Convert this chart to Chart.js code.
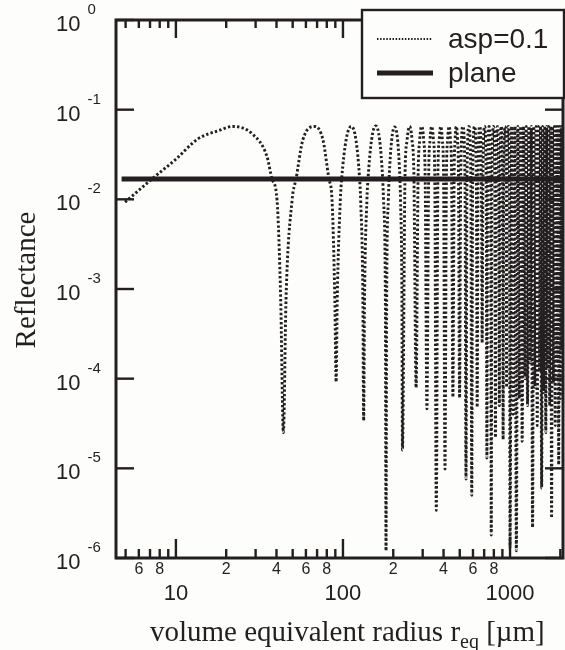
<!DOCTYPE html>
<html>
<head>
<meta charset="utf-8">
<script src="https://cdn.jsdelivr.net/npm/chart.js@4.4.0/dist/chart.umd.min.js"></script>
<style>
  html, body { margin: 0; padding: 0; background: #fdfdfb; }
  canvas { display: block; }
</style>
</head>
<body>
<canvas id="reflChart" width="565" height="650"></canvas>
<script>
// (log-log)
var aspRadius = [
    4.96, 7.2, 10, 13.5, 18.3, 21.9, 28.9, 35.1, 37.6, 40.3, 42.4, 44,
    45.6, 49.6, 52.4, 57.5, 67.9, 75.9, 82.4, 86, 89.4, 91,
    92.4, 96.4, 98.2, 104.4, 112, 119.6, 125.8, 127.6, 131.6, 133,
    134.6, 139.1, 141.2, 148.3, 157, 165.7, 172.8, 174.9, 179.4, 181,
    182.6, 186.9, 188.8, 195.7, 204, 212.3, 219.2, 221.1, 225.4, 227,
    235, 242, 250.5, 259, 266, 274,
    281.5, 288, 296, 304, 310.5, 318,
    325.5, 332, 340, 348, 354.5, 362,
    369.8, 376.7, 385, 393.3, 400.2, 408,
    416, 423, 431.5, 440, 447, 455,
    462.5, 469, 477, 485, 491.5, 499,
    506.5, 522, 537.5, 545,
    552.5, 567.5, 582.5, 590,
    597.5, 613, 628.5, 636,
    643.5, 658.5, 673.5, 681,
    688.5, 704, 719.5, 727,
    734.5, 749.5, 764.5, 772,
    779.5, 795, 810.5, 818,
    825.5, 840.5, 855.5, 863,
    870.5, 886, 901.5, 909,
    916.5, 931.5, 946.5, 954,
    961.5, 977, 992.5, 1000,
    1022.5, 1045, 1068, 1091, 1113.5, 1136, 1159, 1182, 1204.5, 1227,
    1250, 1273, 1295.5, 1318, 1341, 1364, 1386.5, 1409, 1432, 1455,
    1477.5, 1500, 1523, 1546, 1568.5, 1591, 1614, 1637, 1659.5, 1682,
    1705, 1728, 1750.5, 1773, 1796, 1819, 1841.5, 1864, 1887, 1910,
    1932.5, 1955, 1978, 2001, 2023.5, 2046, 2069, 2080
];
var aspReflectance = [
    0.0093, 0.0169, 0.028, 0.047, 0.059, 0.065, 0.053, 0.030, 0.0169, 0.0098, 0.00075, 0.000025,
    0.00075, 0.0098, 0.0169, 0.046, 0.065, 0.046, 0.0169, 0.0098, 0.00075, 0.000092,
    0.00075, 0.0098, 0.0169, 0.046, 0.065, 0.046, 0.0169, 0.0098, 0.00075, 0.000034,
    0.00075, 0.0098, 0.0169, 0.046, 0.066, 0.046, 0.0169, 0.0098, 0.00075, 0.0000012,
    0.00075, 0.0098, 0.0169, 0.046, 0.064, 0.046, 0.0169, 0.0098, 0.00075, 0.000016,
    0.0169, 0.046, 0.065, 0.046, 0.0169, 0.000079,
    0.0169, 0.046, 0.065, 0.046, 0.0169, 0.000046,
    0.0169, 0.046, 0.065, 0.046, 0.0169, 0.0000034,
    0.0169, 0.046, 0.065, 0.046, 0.0169, 0.0000098,
    0.0169, 0.046, 0.065, 0.046, 0.0169, 0.000062,
    0.0169, 0.046, 0.065, 0.046, 0.0169, 0.000061,
    0.0169, 0.065, 0.0169, 0.0000076,
    0.0169, 0.065, 0.0169, 0.000005,
    0.0169, 0.065, 0.0169, 0.000048,
    0.0169, 0.065, 0.0169, 0.00025,
    0.0169, 0.065, 0.0169, 0.000013,
    0.0169, 0.065, 0.0169, 0.0000018,
    0.0169, 0.065, 0.0169, 0.000022,
    0.0169, 0.065, 0.0169, 0.00005,
    0.0169, 0.065, 0.0169, 0.000021,
    0.0169, 0.065, 0.0169, 0.00008,
    0.0169, 0.065, 0.0169, 0.0000013,
    0.065, 0.00004, 0.065, 0.0000012, 0.065, 0.00006, 0.065, 0.00002, 0.065, 0.0001,
    0.065, 0.00005, 0.065, 0.00015, 0.065, 0.0000022, 0.065, 0.00008, 0.065, 0.00003,
    0.065, 0.00012, 0.065, 0.000006, 0.065, 0.00007, 0.065, 0.000025, 0.065, 0.00013,
    0.065, 0.00005, 0.065, 0.0000028, 0.065, 0.00009, 0.065, 0.00003, 0.065, 0.00015,
    0.065, 0.000011, 0.065, 0.00006, 0.065, 0.0002, 0.065, 0.058
];
var planeRadius = [4.73, 2075];
var planeReflectance = [0.0169, 0.0169];

var xMajorTicks = [10, 100, 1000];
var xMajorLabels = ['10', '100', '1000'];
var xMinorTicks = [5, 6, 7, 8, 9, 20, 30, 40, 50, 60, 70, 80, 90, 200, 300, 400, 500, 600, 700, 800, 900, 2000];
var xMinorLabelAt = [6, 8, 20, 40, 60, 80, 200, 400, 600, 800];
var xMinorLabels = ['6', '8', '2', '4', '6', '8', '2', '4', '6', '8'];
var yTicks = [1, 1e-1, 1e-2, 1e-3, 1e-4, 1e-5, 1e-6];
var yExponents = ['0', '-1', '-2', '-3', '-4', '-5', '-6'];

var ink = '#231f20';
var paper = '#fdfdfb';

function toPoints(xs, ys) {
    return xs.map(function(x, i) { return {x: x, y: ys[i]}; });
}

function seg(ctx, x1, y1, x2, y2) {
    ctx.beginPath();
    ctx.moveTo(x1, y1);
    ctx.lineTo(x2, y2);
    ctx.stroke();
}

var framePlugin = {
    id: 'frame',
    afterDraw: function(chart) {
        var ctx = chart.ctx, a = chart.chartArea;
        var xs = chart.scales.x, ys = chart.scales.y;
        ctx.save();
        ctx.strokeStyle = ink;
        ctx.fillStyle = ink;
        ctx.lineWidth = 3;
        ctx.strokeRect(a.left, a.top, a.right - a.left, a.bottom - a.top);

        // inward ticks on all four sides
        ctx.lineWidth = 2.4;
        xMinorTicks.forEach(function(v) {
            var px = xs.getPixelForValue(v);
            seg(ctx, px, a.bottom, px, a.bottom - 9);
            seg(ctx, px, a.top, px, a.top + 8);
        });
        xMajorTicks.forEach(function(v) {
            var px = xs.getPixelForValue(v);
            seg(ctx, px, a.bottom, px, a.bottom - 19);
            seg(ctx, px, a.top, px, a.top + 18);
        });
        yTicks.forEach(function(v) {
            var py = ys.getPixelForValue(v);
            seg(ctx, a.left, py, a.left + 18, py);
            seg(ctx, a.right, py, a.right - 18, py);
        });

        // x labels
        ctx.textAlign = 'center';
        ctx.textBaseline = 'middle';
        ctx.font = '16px "Liberation Sans", Arial, sans-serif';
        xMinorLabelAt.forEach(function(v, i) {
            ctx.fillText(xMinorLabels[i], xs.getPixelForValue(v), 570);
        });
        ctx.font = '22px "Liberation Sans", Arial, sans-serif';
        xMajorTicks.forEach(function(v, i) {
            ctx.fillText(xMajorLabels[i], xs.getPixelForValue(v), 594);
        });

        // y labels 10^n
        yTicks.forEach(function(v, i) {
            var py = ys.getPixelForValue(v);
            ctx.textAlign = 'left';
            ctx.font = '22px "Liberation Sans", Arial, sans-serif';
            ctx.fillText('10', 56, py + 5);
            var w = ctx.measureText('10').width;
            ctx.font = '15px "Liberation Sans", Arial, sans-serif';
            ctx.fillText(yExponents[i], 56 + w + 7, py - 10);
        });

        // axis titles
        ctx.textBaseline = 'alphabetic';
        ctx.textAlign = 'left';
        var serif = '"Liberation Serif", "Times New Roman", serif';
        var tx = 150, ty = 641;
        ctx.font = '29px ' + serif;
        var main = 'volume equivalent radius r';
        ctx.fillText(main, tx, ty);
        tx += ctx.measureText(main).width;
        ctx.font = '20px ' + serif;
        ctx.fillText('eq', tx, ty + 7);
        tx += ctx.measureText('eq').width;
        ctx.font = '29px ' + serif;
        ctx.fillText(' [\u00b5m]', tx, ty);

        ctx.save();
        ctx.translate(35, 280);
        ctx.rotate(-Math.PI / 2);
        ctx.textAlign = 'center';
        ctx.fillText('Reflectance', 0, 0);
        ctx.restore();

        // legend box
        var ds = chart.data.datasets;
        ctx.fillStyle = paper;
        ctx.fillRect(362, 10, 203, 88);
        ctx.lineWidth = 2.4;
        ctx.strokeRect(362, 10, 202, 88);
        ctx.lineWidth = 1.8;
        ctx.setLineDash([1.5, 1.6]);
        seg(ctx, 377, 39, 432, 39);
        ctx.setLineDash([]);
        ctx.lineWidth = 5;
        seg(ctx, 377, 73, 433, 73);
        ctx.fillStyle = ink;
        ctx.font = '28px "Liberation Sans", Arial, sans-serif';
        ctx.fillText(ds[0].label, 448, 48);
        ctx.fillText(ds[1].label, 448, 82);
        ctx.restore();
    }
};

(function() {
    var ctx = document.getElementById('reflChart').getContext('2d');
    new Chart(ctx, {
        type: 'line',
        data: {
            datasets: [{
                label: 'asp=0.1',
                data: toPoints(aspRadius, aspReflectance),
                borderColor: ink,
                borderWidth: 2.9,
                borderDash: [2.4, 2.2],
                borderCapStyle: 'butt',
                cubicInterpolationMode: 'monotone',
                pointRadius: 0,
                fill: false
            }, {
                label: 'plane',
                data: toPoints(planeRadius, planeReflectance),
                borderColor: ink,
                borderWidth: 5,
                pointRadius: 0,
                fill: false
            }]
        },
        options: {
            responsive: false,
            animation: false,
            devicePixelRatio: 1,
            layout: { padding: { left: 116, right: 2, top: 20, bottom: 92 } },
            plugins: { legend: { display: false }, tooltip: { enabled: false } },
            scales: {
                x: { type: 'logarithmic', min: 4.38, max: 2075, display: false },
                y: { type: 'logarithmic', min: 1e-6, max: 1, display: false }
            }
        },
        plugins: [framePlugin]
    });
})();
</script>
</body>
</html>
